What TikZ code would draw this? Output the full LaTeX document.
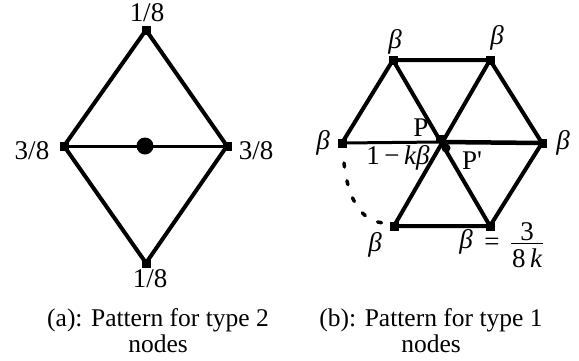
\documentclass[tikz,border=0pt]{standalone}
\usepackage{fontspec}
\setmainfont{Liberation Serif}
\newfontfamily\rawserif{Liberation Serif}
\begin{document}
\begin{tikzpicture}[x=1pt,y=-1pt,
  edge/.style={line width=4pt,line cap=round},
  thinedge/.style={line width=3pt},
  sq/.style={fill=black,minimum size=9pt,inner sep=0pt,rectangle},
  lab/.style={inner sep=0pt,font=\fontsize{27}{30}\selectfont},
  captxt/.style={inner sep=0pt,align=center,font=\fontsize{25.5}{26}\selectfont}]
\useasboundingbox (0,0) rectangle (579,360);
% ---------- (a) diamond ----------
\coordinate (aT) at (146,30);
\coordinate (aL) at (64,146);
\coordinate (aR) at (227,146);
\coordinate (aB) at (146,263);
\coordinate (aC) at (145,146);
\draw[edge] (aL) -- (aT) -- (aR) -- (aB) -- cycle;
\draw[thinedge] (aL) -- (aR);
\node[sq] (nT) at (aT) {};
\node[sq] (nL) at (aL) {};
\node[sq] (nR) at (aR) {};
\node[sq] (nB) at (aB) {};
\fill (aC) circle (8.5pt);
\node[lab] (l1) at (147,13) {1/8};
\node[lab] (l2) at (32,151) {3/8};
\node[lab] (l3) at (256,151) {3/8};
\node[lab] (l4) at (150,279) {1/8};
% ---------- (b) hexagon ----------
\coordinate (TL) at (393,60);
\coordinate (TR) at (490,60);
\coordinate (L) at (342,143);
\coordinate (R) at (542,143);
\coordinate (BL) at (394,226);
\coordinate (BR) at (490,226);
\coordinate (P) at (441,142);
\coordinate (d0) at (344,163);
\coordinate (d1) at (386,223);
\draw[edge] (TL) -- (TR) -- (R) -- (BR) -- (BL);
\draw[edge] (L) -- (TL) -- (BR);
\draw[edge] (TR) -- (BL);
\draw[thinedge] (L) -- (P);
\draw[line width=4.5pt] (P) -- (R);
\draw[line width=3.5pt,dash pattern=on 4pt off 14pt,line cap=round]
  (d0) .. controls (348,200) and (362,223) .. (d1);
\node[sq] (hTL) at (TL) {};
\node[sq] (hTR) at (TR) {};
\node[sq] (hL) at (L) {};
\node[sq] (hR) at (R) {};
\node[sq] (hBL) at (BL) {};
\node[sq] (hBR) at (BR) {};
\node[sq,minimum size=8pt] (hP) at (440,139) {};
\fill (446,148) circle (4.5pt);
\node[lab] (bTL) at (395,42) {\itshape β};
\node[lab] (bTR) at (497,38) {\itshape β};
\node[lab] (bL) at (323,143) {\itshape β};
\node[lab] (bR) at (563,143) {\itshape β};
\node[lab] (bBL) at (375,245) {\itshape β};
\node[lab] (bBR) at (466,242) {\itshape β};
\node[lab] (eq) at (492,244) {=};
\node[lab] (num) at (527,232) {3};
\node[lab] (den) at (527,258) {8\,\itshape k};
\draw[line width=1pt] (511,243.5) -- (543,243.5);
\node[lab] (pP) at (421,128) {P};
\node[lab] (pPp) at (472,161) {\rawserif P'};
\node[lab] (km) at (398,158) {1\,−\,\itshape kβ};
% ---------- captions ----------
\node[captxt] (ca) at (158,331) {(a): Pattern for type 2\\nodes};
\node[captxt] (cb) at (431,331) {(b): Pattern for type 1\\nodes};
\end{tikzpicture}
\end{document}
